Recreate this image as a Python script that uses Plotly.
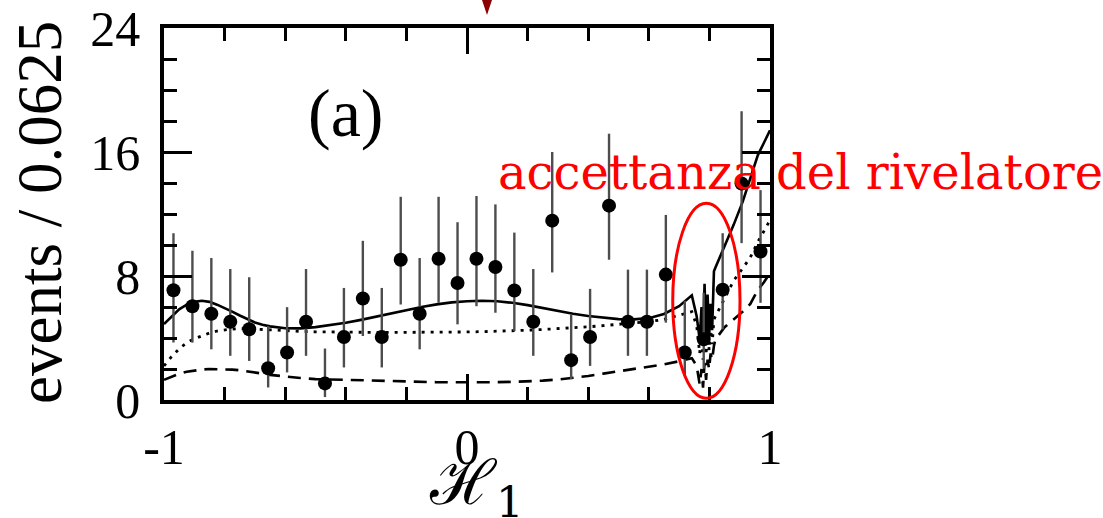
import numpy as np
import plotly.graph_objects as go

# ---- binned data: events per 0.0625 in H1 ----
bin_width = 0.0625
n_bins = 32
h1_centers = -1 + bin_width * (np.arange(n_bins) + 0.5)

counts = [7.08, 6.05, 5.56, 5.05, 4.56, 2.05, 3.06, 5.05, 1.07, 4.06, 6.55,
          4.06, 9.05, 5.56, 9.11, 7.55, 9.11, 8.58, 7.06, 5.05, 11.57, 2.57,
          4.06, 12.54, 5.05, 5.05, 8.09, 3.06, 3.92, 7.12, 13.97, 9.58]
err_plus = [3.68, 3.58, 3.60, 3.40, 3.36, 2.72, 2.93, 3.40, 2.25, 3.17, 3.72,
            3.17, 4.06, 3.60, 4.00, 3.92, 4.05, 4.04, 3.74, 3.40, 4.43, 2.95,
            3.11, 4.64, 3.36, 3.36, 3.85, 3.34, 3.00, 3.64, 4.66, 3.96]
err_minus = [3.37, 2.35, 2.29, 2.20, 2.04, 1.24, 1.28, 2.20, 0.88, 1.96, 2.42,
             1.96, 2.89, 2.29, 2.84, 2.67, 3.06, 2.95, 2.61, 2.20, 3.34, 1.22,
             1.86, 3.49, 2.20, 2.20, 3.10, 1.50, 1.90, 2.56, 3.85, 3.31]

# ---- fit projections (total, component 1, component 2) ----
curve_x = [-1.0, -0.975, -0.95, -0.925, -0.9, -0.875, -0.85, -0.825, -0.8,
           -0.775, -0.75, -0.725, -0.7, -0.675, -0.65, -0.6, -0.55, -0.5,
           -0.45, -0.4, -0.35, -0.3, -0.25, -0.2, -0.15, -0.1, -0.05, 0.0,
           0.05, 0.1, 0.15, 0.2, 0.25, 0.3, 0.35, 0.4, 0.45, 0.5, 0.55, 0.6,
           0.65, 0.7, 0.742, 0.758, 0.768, 0.774, 0.779, 0.784, 0.789, 0.794,
           0.799, 0.804, 0.809, 0.815, 0.82, 0.85, 0.88, 0.91, 0.935, 0.96,
           0.98, 1.0]
total_fit = [4.9, 5.4, 5.85, 6.15, 6.33, 6.4, 6.33, 6.15, 5.95, 5.7, 5.45, 5.2,
             5.0, 4.85, 4.75, 4.63, 4.62, 4.7, 4.82, 4.98, 5.17, 5.38, 5.6,
             5.8, 6.0, 6.17, 6.3, 6.37, 6.4, 6.37, 6.27, 6.12, 5.93, 5.75,
             5.57, 5.42, 5.3, 5.22, 5.2, 5.28, 5.55, 6.05, 6.75, 5.4, 3.9,
             6.0, 3.7, 7.5, 4.0, 6.8, 4.1, 6.2, 4.5, 8.3, 8.55, 9.9, 11.3,
             12.8, 14.3, 15.8, 16.6, 17.4]
dotted_fit = [2.2, 2.8, 3.3, 3.7, 3.95, 4.15, 4.32, 4.45, 4.53, 4.58, 4.6,
              4.6, 4.58, 4.55, 4.52, 4.47, 4.43, 4.4, 4.38, 4.37, 4.36, 4.36,
              4.36, 4.36, 4.36, 4.37, 4.38, 4.39, 4.41, 4.43, 4.46, 4.5, 4.55,
              4.6, 4.66, 4.72, 4.8, 4.87, 4.95, 5.05, 5.2, 5.45, 5.7, 4.8, 3.0,
              4.6, 2.6, 5.5, 2.9, 5.0, 3.2, 4.8, 3.6, 5.2, 5.4, 6.6, 7.7, 8.5,
              9.2, 10.2, 10.9, 11.6]
dashed_fit = [1.3, 1.5, 1.7, 1.82, 1.9, 1.96, 2.0, 2.0, 2.0, 1.96, 1.92, 1.86,
              1.8, 1.7, 1.62, 1.5, 1.42, 1.35, 1.32, 1.3, 1.26, 1.22, 1.2,
              1.18, 1.16, 1.15, 1.14, 1.13, 1.14, 1.15, 1.17, 1.2, 1.25, 1.32,
              1.42, 1.55, 1.7, 1.85, 1.98, 2.12, 2.3, 2.5, 2.7, 2.2, 1.0, 2.0,
              0.8, 2.4, 1.3, 2.6, 2.0, 3.0, 2.6, 3.5, 3.9, 4.7, 5.2, 5.7, 6.2,
              7.1, 7.6, 8.2]

# ---- figure geometry (pixels) ----
W, H = 1103, 518
ML, MR, MT, MB = 164, 333, 28, 118
PW, PH = W - ML - MR, H - MT - MB


def px_x(px):
    return (px - ML) / PW


def px_y(py):
    return (H - MB - py) / PH


SERIF = "Liberation Serif"

fig = go.Figure()

fig.add_trace(go.Scatter(x=curve_x, y=dashed_fit, mode="lines",
                         line=dict(color="black", width=2.6, dash="13px,8px"),
                         hoverinfo="skip"))
fig.add_trace(go.Scatter(x=curve_x, y=dotted_fit, mode="lines",
                         line=dict(color="black", width=2.8, dash="3px,6px"),
                         hoverinfo="skip"))
fig.add_trace(go.Scatter(x=curve_x, y=total_fit, mode="lines",
                         line=dict(color="black", width=2.6),
                         hoverinfo="skip"))
fig.add_trace(go.Scatter(
    x=h1_centers, y=counts, mode="markers",
    marker=dict(color="black", size=14),
    error_y=dict(type="data", symmetric=False, array=err_plus,
                 arrayminus=err_minus, color="#4d4d4d", thickness=2.4,
                 width=0),
))

axis_common = dict(
    showline=True, linewidth=3.5, linecolor="black", mirror="allticks",
    ticks="inside", tickwidth=3, tickcolor="black", showgrid=False,
    zeroline=False, automargin=False,
    tickfont=dict(family=SERIF, size=50, color="black"),
)

fig.update_xaxes(range=[-1, 1], tickvals=[-1, 0, 1],
                 ticktext=["-1", "0", "1"], ticklen=26,
                 minor=dict(tick0=-1, dtick=0.2, ticks="inside", ticklen=13,
                            tickwidth=3, tickcolor="black", showgrid=False),
                 **axis_common)
fig.update_yaxes(range=[0, 24], tickvals=[0, 8, 16, 24],
                 ticktext=["0", "8", "16", "24"], ticklen=28,
                 ticklabelstandoff=10,
                 minor=dict(tick0=0, dtick=2, ticks="inside", ticklen=13,
                            tickwidth=3, tickcolor="black", showgrid=False),
                 **axis_common)

# acceptance region marker
fig.add_shape(type="circle", xref="x", yref="y", x0=0.679, x1=0.901,
              y0=0.11, y1=12.69, line=dict(color="red", width=3))

# small pointer at the top edge
tip_x, tip_y = px_x(487), px_y(15)
fig.add_shape(type="path", xref="paper", yref="paper",
              path=(f"M {px_x(481)} {px_y(-3)} L {px_x(493)} {px_y(-3)} "
                    f"L {tip_x} {tip_y} Z"),
              fillcolor="#8b0000", line=dict(color="#8b0000", width=0))

annotations = [
    dict(text="(a)", x=px_x(345), y=px_y(113), xanchor="center",
         yanchor="middle", font=dict(family=SERIF, size=68, color="black")),
    dict(text="accettanza del rivelatore", x=px_x(496), y=px_y(172),
         xanchor="left", yanchor="middle",
         font=dict(family="DejaVu Serif", size=48, color="red")),
    dict(text="events / 0.0625", x=px_x(40), y=px_y(213), textangle=-90,
         xanchor="center", yanchor="middle",
         font=dict(family=SERIF, size=63, color="black")),
    dict(text="ℋ<sub>1</sub>", x=px_x(476), y=px_y(486), xanchor="center",
         yanchor="middle",
         font=dict(family="DejaVu Serif", size=62, color="black")),
]
for a in annotations:
    a.update(xref="paper", yref="paper", showarrow=False)
fig.update_layout(annotations=annotations)

fig.update_layout(
    width=W, height=H, showlegend=False,
    margin=dict(l=ML, r=MR, t=MT, b=MB, pad=0, autoexpand=False),
    plot_bgcolor="white", paper_bgcolor="white",
)

fig.write_html("out.html")
